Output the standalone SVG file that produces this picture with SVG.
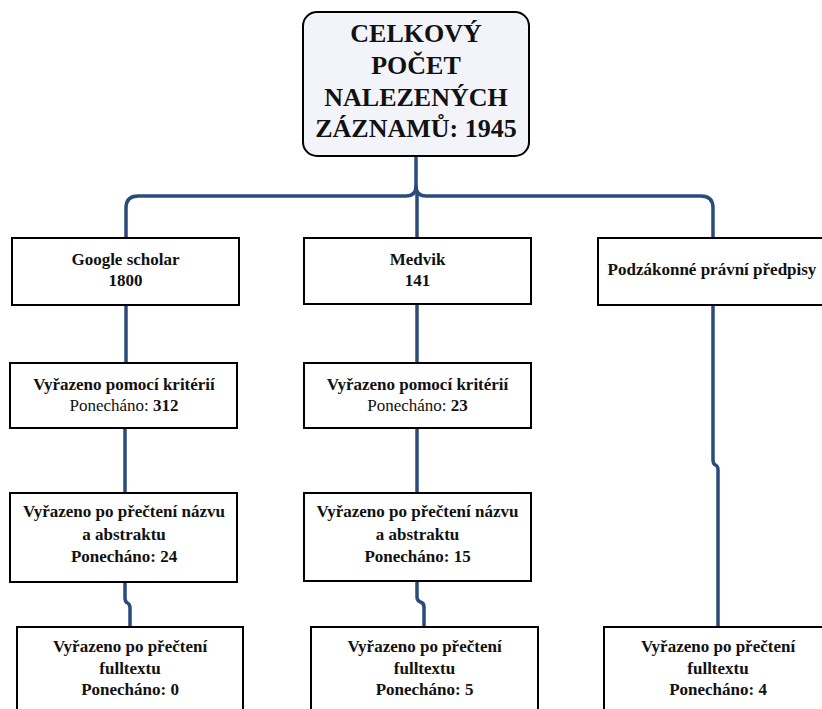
<svg xmlns="http://www.w3.org/2000/svg" width="822" height="709" viewBox="0 0 822 709">
<style>
.box{fill:#ffffff;stroke:#000000;stroke-width:2}
.title{fill:#f3f4fa;stroke:#000000;stroke-width:2}
text{font-family:'Liberation Serif','Times New Roman',serif}
.t{font-size:17px;font-weight:bold;fill:#111;text-anchor:middle}
.n{font-weight:normal}
.tt{font-size:26px;font-weight:bold;fill:#111;text-anchor:middle}
.c{fill:none;stroke:#2b4b7d;stroke-width:3.5;stroke-linecap:round;stroke-linejoin:round}
</style>
<rect width="822" height="709" fill="#ffffff"/>
<g id="connectors">
<path class="c" d="M416 156 V186 Q416 196 406 196 H138 Q126 196 126 208 V238"/>
<path class="c" d="M416 186 Q416 196 426 196 H701 Q713 196 713 208 V238"/>
<path class="c" d="M417 192 V238"/>
<path class="c" d="M126 305 V363"/>
<path class="c" d="M125 428 V493"/>
<path class="c" d="M125 582 V598 Q125 602 127.5 603 Q130 604 130 608 V627"/>
<path class="c" d="M417 305 V363"/>
<path class="c" d="M417 428 V493"/>
<path class="c" d="M417 581 V597 Q417 601 420.5 602 Q424 603 424 607 V627"/>
<path class="c" d="M713 305 V460 Q713 464 715.5 465 Q718 466 718 470 V627"/>
</g>
<g id="title">
<rect class="title" x="303" y="12" width="226" height="144" rx="14"/>
<text class="tt" x="416" y="42">CELKOVÝ</text>
<text class="tt" x="416" y="74">POČET</text>
<text class="tt" x="416" y="106">NALEZENÝCH</text>
<text class="tt" x="416" y="137">ZÁZNAMŮ: 1945</text>
</g>
<g id="google">
<rect class="box" x="12" y="238" width="227" height="67"/>
<text class="t" x="125.5" y="265">Google scholar</text>
<text class="t" x="125.5" y="286">1800</text>
</g>
<g id="medvik">
<rect class="box" x="304" y="238" width="227" height="66"/>
<text class="t" x="417.5" y="265">Medvik</text>
<text class="t" x="417.5" y="286">141</text>
</g>
<g id="predpisy">
<rect class="box" x="598" y="238" width="240" height="67"/>
<text class="t" x="712" y="275">Podzákonné právní předpisy</text>
</g>
<g id="google-krit">
<rect class="box" x="10" y="363" width="227" height="65"/>
<text class="t" x="124" y="390">Vyřazeno pomocí kritérií</text>
<text class="t" x="124" y="411"><tspan class="n">Ponecháno:</tspan> 312</text>
</g>
<g id="medvik-krit">
<rect class="box" x="304" y="363" width="227" height="65"/>
<text class="t" x="417.5" y="390">Vyřazeno pomocí kritérií</text>
<text class="t" x="417.5" y="411"><tspan class="n">Ponecháno:</tspan> 23</text>
</g>
<g id="google-abs">
<rect class="box" x="10" y="493" width="227" height="89"/>
<text class="t" x="124" y="517">Vyřazeno po přečtení názvu</text>
<text class="t" x="124" y="540">a abstraktu</text>
<text class="t" x="124" y="562">Ponecháno: 24</text>
</g>
<g id="medvik-abs">
<rect class="box" x="304" y="493" width="227" height="88"/>
<text class="t" x="417.5" y="517">Vyřazeno po přečtení názvu</text>
<text class="t" x="417.5" y="540">a abstraktu</text>
<text class="t" x="417.5" y="562">Ponecháno: 15</text>
</g>
<g id="google-full">
<rect class="box" x="17" y="627" width="226" height="100"/>
<text class="t" x="130" y="652">Vyřazeno po přečtení</text>
<text class="t" x="130" y="673.5">fulltextu</text>
<text class="t" x="130" y="695">Ponecháno: 0</text>
</g>
<g id="medvik-full">
<rect class="box" x="311" y="627" width="227" height="100"/>
<text class="t" x="424.5" y="652">Vyřazeno po přečtení</text>
<text class="t" x="424.5" y="673.5">fulltextu</text>
<text class="t" x="424.5" y="695">Ponecháno: 5</text>
</g>
<g id="predpisy-full">
<rect class="box" x="604" y="627" width="240" height="100"/>
<text class="t" x="718" y="652">Vyřazeno po přečtení</text>
<text class="t" x="718" y="673.5">fulltextu</text>
<text class="t" x="718" y="695">Ponecháno: 4</text>
</g>
</svg>
